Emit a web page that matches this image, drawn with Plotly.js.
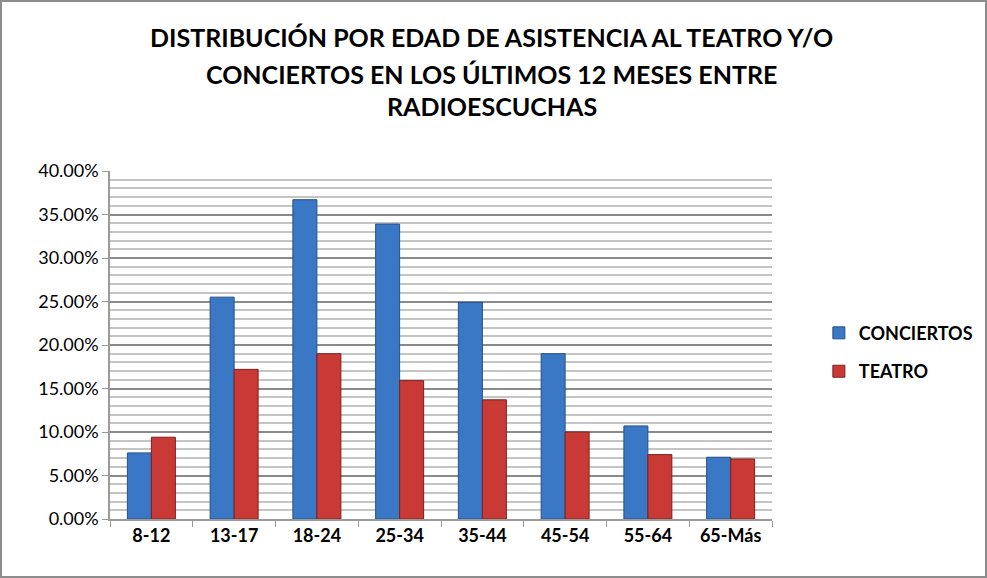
<!DOCTYPE html>
<html>
<head>
<meta charset="utf-8">
<script src="https://cdn.plot.ly/plotly-3.0.1.min.js"></script>
<style>
  html, body { margin: 0; padding: 0; background: #fff; }
  #graph { width: 983px; height: 574px; border: 2px solid #8c8c8c; }
</style>
</head>
<body>
<div id="graph"></div>
<script>
// grupos de edad
var edades = ['8-12', '13-17', '18-24', '25-34', '35-44', '45-54', '55-64', '65-Más'];
// porcentajes
var conciertos = [7.6, 25.5, 36.7, 33.9, 24.9, 19.0, 10.7, 7.1];
var teatro = [9.4, 17.2, 19.0, 15.9, 13.7, 10.0, 7.4, 6.9];
var yTicks = [0, 5, 10, 15, 20, 25, 30, 35, 40];
var lineasTitulo = [
    'DISTRIBUCIÓN POR EDAD DE ASISTENCIA AL TEATRO Y/O',
    'CONCIERTOS EN LOS ÚLTIMOS 12 MESES ENTRE',
    'RADIOESCUCHAS'
];

var fuente = 'Lato, "Open Sans", "DejaVu Sans", sans-serif';

var trazas = [
    {
        x: edades,
        y: conciertos,
        name: 'CONCIERTOS',
        type: 'bar',
        legendgroup: 'a',
        marker: { color: '#3a78c6', line: { color: '#24508a', width: 1 } },
        hovertemplate: '%{x}: %{y:.2f}%<extra>CONCIERTOS</extra>'
    },
    {
        x: edades,
        y: teatro,
        name: 'TEATRO',
        type: 'bar',
        legendgroup: 'b',
        marker: { color: '#c93a37', line: { color: '#7e1f1d', width: 1 } },
        hovertemplate: '%{x}: %{y:.2f}%<extra>TEATRO</extra>'
    }
];

// el título va en tres líneas separadas para igualar el interlineado
var posY = [1.385, 1.278, 1.186];
var titulo = lineasTitulo.map(function(t, i) {
    return {
        text: t,
        xref: 'paper', yref: 'paper',
        x: 0.577, y: posY[i],
        xanchor: 'center', yanchor: 'middle',
        showarrow: false,
        font: { family: fuente, size: 25, color: '#000', weight: 'bold' }
    };
});

var layout = {
    width: 983,
    height: 574,
    paper_bgcolor: '#ffffff',
    plot_bgcolor: '#ffffff',
    font: { family: fuente, color: '#000' },
    annotations: titulo,
    margin: { l: 108, r: 213, t: 169, b: 57 },
    barmode: 'group',
    bargap: 0.42,
    bargroupgap: 0,
    xaxis: {
        type: 'category',
        showline: true,
        linecolor: '#9a9a9a',
        linewidth: 1.5,
        ticks: 'outside',
        tickson: 'boundaries',
        ticklen: 6,
        tickcolor: '#9a9a9a',
        tickfont: { family: fuente, size: 18, color: '#000', weight: 'bold' },
        showgrid: false
    },
    yaxis: {
        range: [0, 40],
        tickvals: yTicks,
        ticktext: yTicks.map(function(v) { return v.toFixed(2) + '%'; }),
        tickfont: { family: fuente, size: 18, color: '#000' },
        showline: true,
        linecolor: '#9a9a9a',
        linewidth: 1.5,
        ticks: 'outside',
        ticklen: 6,
        tickcolor: '#9a9a9a',
        showgrid: true,
        gridcolor: '#8a8a8a',
        gridwidth: 1.5,
        zeroline: false,
        minor: {
            dtick: 1,
            showgrid: true,
            gridcolor: '#c4c4c4',
            gridwidth: 1.5,
            ticks: ''
        }
    },
    legend: {
        xref: 'container',
        yref: 'container',
        x: 0.831,
        xanchor: 'left',
        y: 0.39,
        yanchor: 'middle',
        font: { family: fuente, size: 18, color: '#000', weight: 'bold' },
        tracegroupgap: 12,
        bgcolor: 'rgba(0,0,0,0)'
    },
    showlegend: true
};

Plotly.newPlot('graph', trazas, layout, { displayModeBar: false, responsive: false });
</script>
</body>
</html>
